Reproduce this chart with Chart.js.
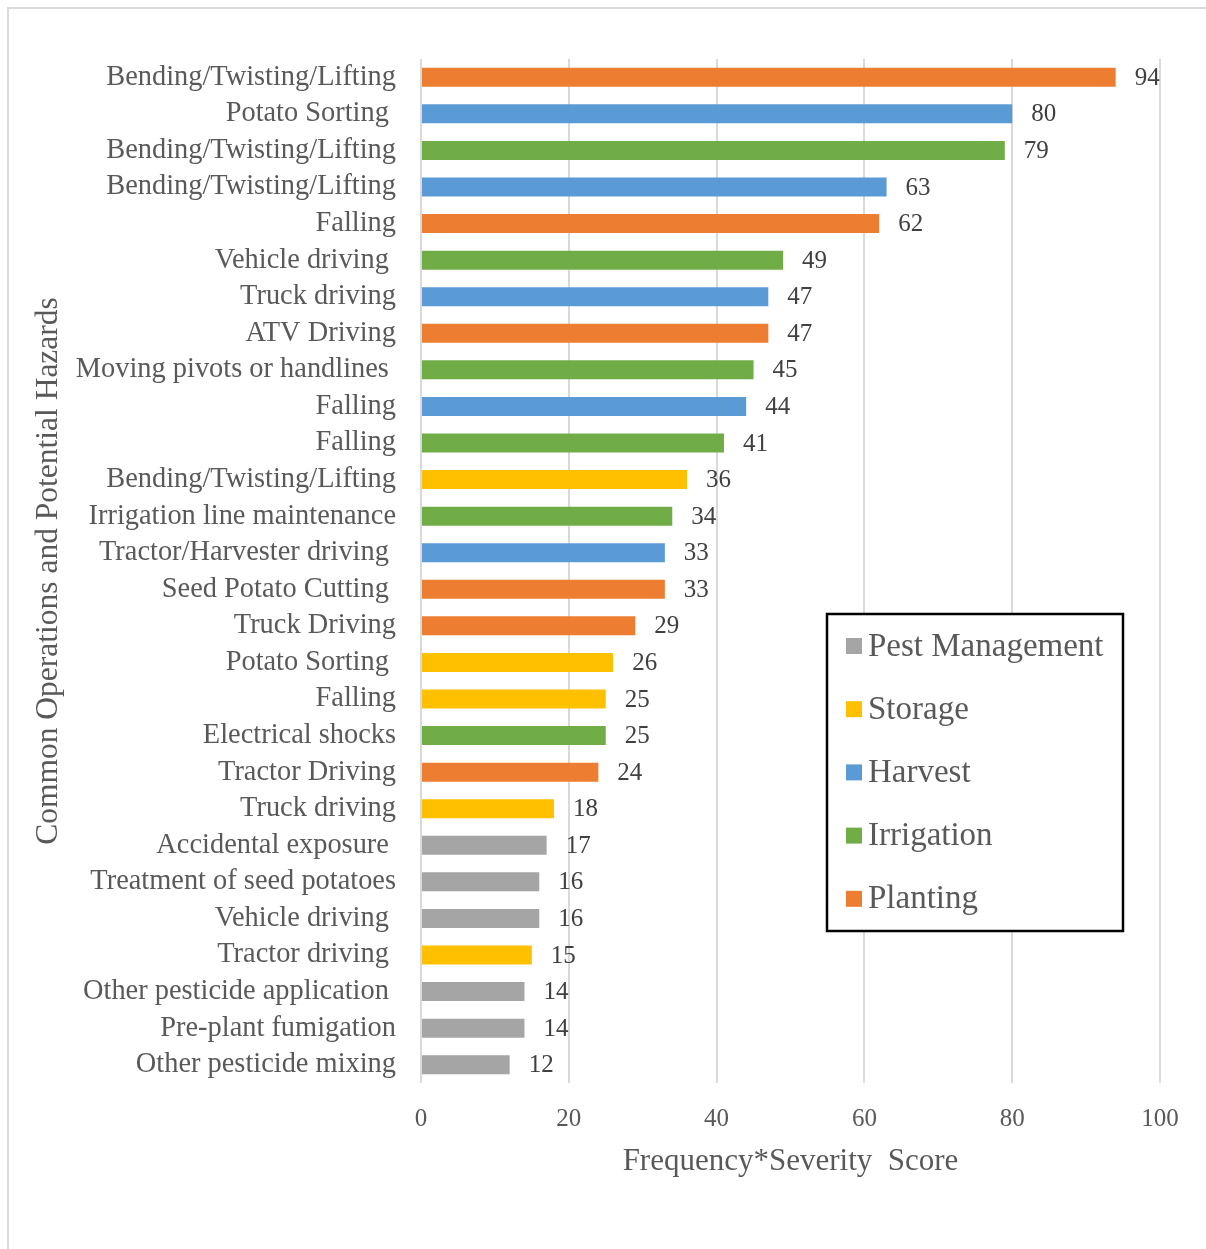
<!DOCTYPE html>
<html>
<head>
<meta charset="utf-8">
<script src="https://cdn.jsdelivr.net/npm/chart.js@4/dist/chart.umd.min.js"></script>
<style>
  html, body { margin: 0; padding: 0; background: #fff; overflow: hidden; }
  #frame { position: absolute; left: 7px; top: 7px; width: 1220px; height: 1270px; border: 2px solid #d9d9d9; box-sizing: border-box; }
  #wrap { position: absolute; left: 0; top: 0; width: 1206px; height: 1249px; }
</style>
</head>
<body>
<div id="frame"></div>
<div id="wrap"><canvas id="c" width="1206" height="1249"></canvas></div>
<script>
// ---- Data ----
const categories = [
  "Bending/Twisting/Lifting", "Potato Sorting ", "Bending/Twisting/Lifting", "Bending/Twisting/Lifting",
  "Falling", "Vehicle driving ", "Truck driving", "ATV Driving", "Moving pivots or handlines ",
  "Falling", "Falling", "Bending/Twisting/Lifting", "Irrigation line maintenance",
  "Tractor/Harvester driving ", "Seed Potato Cutting ", "Truck Driving", "Potato Sorting ",
  "Falling", "Electrical shocks", "Tractor Driving", "Truck driving", "Accidental exposure ",
  "Treatment of seed potatoes", "Vehicle driving ", "Tractor driving ", "Other pesticide application ",
  "Pre-plant fumigation", "Other pesticide mixing"
];
const scores = [94, 80, 79, 63, 62, 49, 47, 47, 45, 44, 41, 36, 34, 33, 33, 29, 26, 25, 25, 24, 18, 17, 16, 16, 15, 14, 14, 12];
const stages = [
  "Planting", "Harvest", "Irrigation", "Harvest", "Planting", "Irrigation", "Harvest", "Planting", "Irrigation",
  "Harvest", "Irrigation", "Storage", "Irrigation", "Harvest", "Planting", "Planting", "Storage",
  "Storage", "Irrigation", "Planting", "Storage", "Pest Management", "Pest Management", "Pest Management",
  "Storage", "Pest Management", "Pest Management", "Pest Management"
];
const legendOrder = ["Pest Management", "Storage", "Harvest", "Irrigation", "Planting"];
const stageColors = ["#a5a5a5", "#ffc000", "#5b9bd5", "#70ad47", "#ed7d31"];
const xTicks = [0, 20, 40, 60, 80, 100];

// ---- Build datasets (one per stage, null where not that stage) ----
const datasets = legendOrder.map((st, i) => ({
  label: st,
  data: scores.map((v, j) => stages[j] === st ? v : null),
  backgroundColor: stageColors[i],
  borderWidth: 0,
  categoryPercentage: 1,
  barPercentage: 0.52
}));

const SERIF = "'Liberation Serif', 'Times New Roman', serif";

const valueLabels = {
  id: 'valueLabels',
  afterDatasetsDraw(chart) {
    const ctx = chart.ctx;
    ctx.save();
    ctx.font = "25px " + SERIF;
    ctx.fillStyle = "#404040";
    ctx.textAlign = "left";
    ctx.textBaseline = "middle";
    chart.data.datasets.forEach((ds, di) => {
      const meta = chart.getDatasetMeta(di);
      meta.data.forEach((bar, j) => {
        const v = ds.data[j];
        if (v === null || v === undefined) return;
        ctx.fillText(String(v), bar.x + 19, bar.y + 1);
      });
    });
    ctx.restore();
  }
};

const boxLegend = {
  id: 'boxLegend',
  afterDraw(chart) {
    const ctx = chart.ctx;
    ctx.save();
    const x0 = 827, y0 = 614, w = 296, h = 317;
    ctx.fillStyle = "#fff";
    ctx.fillRect(x0, y0, w, h);
    ctx.strokeStyle = "#000";
    ctx.lineWidth = 2.5;
    ctx.strokeRect(x0, y0, w, h);
    ctx.font = "33px " + SERIF;
    ctx.textBaseline = "middle";
    ctx.textAlign = "left";
    chart.data.datasets.forEach((ds, i) => {
      const cy = 646 + i * 63.2;
      ctx.fillStyle = ds.backgroundColor;
      ctx.fillRect(846, cy - 8, 16, 16);
      ctx.fillStyle = "#595959";
      ctx.fillText(ds.label, 868, cy + 1);
    });
    ctx.restore();
  }
};

new Chart(document.getElementById('c'), {
  type: 'bar',
  data: { labels: categories, datasets },
  options: {
    indexAxis: 'y',
    responsive: false,
    animation: false,
    layout: { padding: { top: 59, right: 46, left: 0, bottom: 0 } },
    plugins: { legend: { display: false }, tooltip: { enabled: false } },
    scales: {
      x: {
        stacked: true,
        min: 0, max: 100,
        afterBuildTicks(scale) { scale.ticks = xTicks.map(v => ({ value: v })); },
        afterFit(scale) { scale.height = 166; },
        grid: { color: "#d9d9d9", lineWidth: 2, drawTicks: false },
        border: { display: false },
        ticks: { padding: 21, color: "#595959", font: { family: SERIF, size: 25 } },
        title: {
          display: true, text: "Frequency*Severity  Score", color: "#595959",
          font: { family: SERIF, size: 31 }, padding: { top: 0, bottom: 69 }
        }
      },
      y: {
        stacked: true,
        afterFit(scale) { scale.width = 421; },
        grid: { display: false, drawTicks: false },
        border: { display: false },
        ticks: { padding: 25, color: "#595959", autoSkip: false, font: { family: SERIF, size: 28.4 } },
        title: {
          display: true, text: "Common Operations and Potential Hazards", color: "#595959",
          font: { family: SERIF, size: 31.5 }, padding: { top: 30, bottom: 0 }
        }
      }
    }
  },
  plugins: [valueLabels, boxLegend]
});
</script>
</body>
</html>
